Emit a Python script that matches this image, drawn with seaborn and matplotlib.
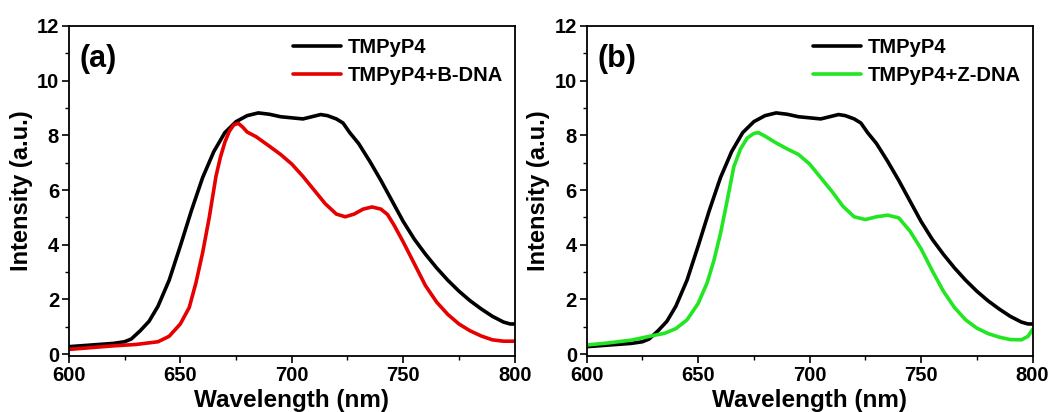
import numpy as np
import pandas as pd
import matplotlib
matplotlib.use('Agg')
import matplotlib.pyplot as plt
import seaborn as sns
from matplotlib.ticker import MultipleLocator

# wavelength grids (nm) and intensities
wl_black = [600, 610, 620, 625, 628, 632, 636, 640, 645, 650, 655, 660, 665, 670, 675, 680,
            685, 690, 695, 700, 705, 710, 713, 716, 720, 723, 726, 730, 735, 740, 745,
            750, 755, 760, 765, 770, 775, 780, 785, 790, 795, 798, 800]
tmpyp4 = [0.27, 0.33, 0.39, 0.45, 0.55, 0.85, 1.20, 1.75, 2.70, 3.95, 5.25, 6.45, 7.40, 8.10, 8.50, 8.72,
          8.82, 8.77, 8.68, 8.64, 8.60, 8.70, 8.76, 8.72, 8.60, 8.45, 8.10, 7.70, 7.05, 6.35, 5.60,
          4.85, 4.20, 3.65, 3.15, 2.70, 2.30, 1.95, 1.65, 1.38, 1.17, 1.10, 1.10]

wl_red = [600, 620, 630, 640, 645, 650, 654, 657, 660, 663, 666, 668, 670, 672, 674, 676,
          678, 680, 684, 690, 695, 700, 705, 710, 715, 720, 724, 728, 732, 736, 740, 743,
          746, 750, 755, 760, 765, 770, 775, 780, 785, 790, 795, 800]
tmpyp4_bdna = [0.17, 0.30, 0.35, 0.45, 0.65, 1.10, 1.70, 2.60, 3.70, 5.00, 6.50, 7.20, 7.75, 8.15, 8.38, 8.44,
               8.30, 8.12, 7.95, 7.60, 7.30, 6.95, 6.50, 6.00, 5.50, 5.12, 5.02, 5.12, 5.30, 5.38, 5.30, 5.10,
               4.70, 4.10, 3.30, 2.50, 1.90, 1.45, 1.10, 0.85, 0.66, 0.52, 0.47, 0.47]

wl_green = [600, 610, 620, 630, 635, 640, 645, 650, 654, 657, 660, 663, 666, 669, 672, 675,
            677, 680, 685, 690, 695, 700, 705, 710, 715, 720, 725, 730, 735, 740, 745, 750,
            755, 760, 765, 770, 775, 780, 785, 790, 795, 798, 800]
tmpyp4_zdna = [0.33, 0.41, 0.51, 0.68, 0.76, 0.93, 1.25, 1.85, 2.60, 3.40, 4.40, 5.60, 6.85, 7.50, 7.90, 8.07,
               8.10, 7.97, 7.72, 7.50, 7.30, 6.95, 6.45, 5.95, 5.40, 5.02, 4.92, 5.02, 5.08, 4.98, 4.50, 3.85,
               3.05, 2.30, 1.70, 1.25, 0.95, 0.75, 0.62, 0.53, 0.52, 0.65, 0.90]

sns.set_style('ticks')
plt.rcParams['font.family'] = ['Liberation Sans', 'DejaVu Sans']
plt.rcParams['font.weight'] = 'bold'
plt.rcParams['text.color'] = 'black'
plt.rcParams['axes.labelcolor'] = 'black'
plt.rcParams['xtick.color'] = 'black'
plt.rcParams['ytick.color'] = 'black'
plt.rcParams['axes.edgecolor'] = 'black'

fig = plt.figure(figsize=(10.59, 4.12), dpi=100)
ax1 = fig.add_axes([0.065, 0.136, 0.421, 0.801])
ax2 = fig.add_axes([0.554, 0.136, 0.421, 0.801])

black_df = pd.DataFrame({'wl': wl_black, 'y': tmpyp4})
panels = [
    (ax1, '(a)', wl_red, tmpyp4_bdna, 'TMPyP4+B-DNA', '#e60000'),
    (ax2, '(b)', wl_green, tmpyp4_zdna, 'TMPyP4+Z-DNA', '#22e622'),
]

for ax, tag, wl, vals, name, col in panels:
    df = pd.DataFrame({'wl': wl, 'y': vals})
    sns.lineplot(data=black_df, x='wl', y='y', ax=ax, color='black', lw=2.6, label='TMPyP4')
    sns.lineplot(data=df, x='wl', y='y', ax=ax, color=col, lw=2.6, label=name)
    ax.set_xlim(600, 800)
    ax.set_ylim(-0.07, 12)
    ax.xaxis.set_major_locator(MultipleLocator(50))
    ax.xaxis.set_minor_locator(MultipleLocator(25))
    ax.yaxis.set_major_locator(MultipleLocator(2))
    ax.yaxis.set_minor_locator(MultipleLocator(1))
    ax.tick_params(which='major', length=5, width=1.2, labelsize=14.5, pad=2)
    ax.tick_params(which='minor', length=3, width=1.0)
    for lab in ax.get_xticklabels() + ax.get_yticklabels():
        lab.set_fontweight('bold')
    for sp in ax.spines.values():
        sp.set_visible(True)
        sp.set_linewidth(1.3)
    ax.set_xlabel('Wavelength (nm)', fontsize=17.5, fontweight='bold', labelpad=3)
    ax.set_ylabel('Intensity (a.u.)', fontsize=17, fontweight='bold', labelpad=3)
    ax.text(0.025, 0.9, tag, transform=ax.transAxes, fontsize=22, fontweight='bold', va='center')
    ax.legend(loc='upper right', frameon=False, handlelength=2.4, handletextpad=0.3,
              labelspacing=0.45, borderaxespad=0.3, borderpad=0.3,
              prop={'size': 14.5, 'weight': 'bold'})

fig.savefig('out.png', dpi=100)
